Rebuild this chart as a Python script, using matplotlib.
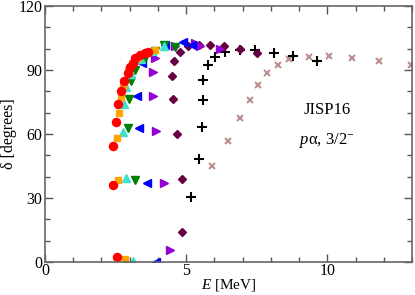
import matplotlib
matplotlib.use("Agg")
import matplotlib.pyplot as plt
from matplotlib.ticker import MultipleLocator

plt.rcParams["font.family"] = ["Liberation Serif", "DejaVu Serif"]
plt.rcParams["mathtext.fontset"] = "custom"
plt.rcParams["mathtext.rm"] = "Liberation Serif"
plt.rcParams["mathtext.it"] = "Liberation Serif:italic"

# phase shift points, one list pair per series (E in MeV, delta in degrees)
red_E = [2.54, 2.42, 2.42, 2.51, 2.58, 2.70, 2.80, 2.93, 3.01, 3.10, 3.19, 3.37, 3.55, 3.66]
red_d = [2.5, 36.1, 54.4, 65.6, 73.9, 80.2, 84.7, 88.4, 91.2, 93.1, 95.5, 97.0, 98.1, 98.6]

orange_E = [2.84, 2.60, 2.56, 2.62, 2.70, 2.78, 2.95, 3.30, 3.60, 3.90]
orange_d = [1.4, 38.4, 58.0, 69.7, 77.2, 82.5, 89.5, 95.5, 98.0, 99.4]

cyan_E = [3.13, 2.86, 2.78, 2.81, 2.87, 3.05, 3.40, 3.80, 4.20]
cyan_d = [0.5, 39.2, 61.1, 73.9, 81.9, 88.0, 95.0, 99.0, 101.3]

green_E = [3.19, 2.95, 2.98, 3.05, 3.19, 3.55, 3.90, 4.20, 4.61]
green_d = [38.4, 62.7, 76.4, 84.9, 90.0, 95.5, 99.0, 101.7, 100.9]

blue_E = [3.92, 3.61, 3.32, 3.27, 3.43, 3.75, 4.26, 4.90, 5.20]
blue_d = [0.2, 36.9, 62.7, 77.8, 93.4, 98.5, 101.7, 103.3, 101.7]

violet_E = [4.43, 4.20, 3.94, 3.82, 3.84, 3.88, 4.60, 5.32, 5.50, 6.20]
violet_d = [5.6, 36.9, 61.4, 78.0, 88.8, 95.5, 101.3, 102.5, 101.3, 99.7]

maroon_E = [4.86, 4.85, 4.67, 4.55, 4.50, 4.57, 4.79, 5.08, 5.44, 5.85, 6.35, 6.89, 7.51]
maroon_d = [14.2, 38.8, 60.0, 76.3, 87.3, 94.4, 98.6, 101.0, 101.7, 101.7, 101.0, 99.7, 97.8]

black_E = [5.18, 5.46, 5.56, 5.58, 5.61, 5.77, 6.03, 6.38, 6.89, 7.45, 8.10, 8.80, 9.63]
black_d = [30.6, 48.1, 63.4, 75.9, 85.3, 92.2, 96.2, 98.6, 99.4, 99.4, 98.1, 96.6, 94.2]

brown_E = [5.93, 6.50, 6.91, 7.25, 7.54, 7.86, 8.25, 8.66, 9.34, 10.05, 10.88, 11.84, 12.97]
brown_d = [45.2, 56.9, 67.4, 75.9, 83.0, 88.5, 92.4, 95.0, 96.2, 96.6, 95.5, 94.2, 92.4]

fig = plt.figure(figsize=(4.15, 2.95), dpi=100)
ax = fig.add_axes([0.1084, 0.112, 0.8844, 0.868])

ax.plot(brown_E, brown_d, ls="none", marker="x", ms=4.5, mew=1.5, color="#bc8f8f")
ax.plot(black_E, black_d, ls="none", marker="+", ms=6.5, mew=1.5, color="black")
ax.plot(maroon_E, maroon_d, ls="none", marker="D", ms=4.5, color="#670043")
ax.plot(violet_E, violet_d, ls="none", marker=">", ms=5.8, color="#9400d3")
ax.plot(blue_E, blue_d, ls="none", marker="<", ms=5.8, color="#0000ff")
ax.plot(green_E, green_d, ls="none", marker="v", ms=5.8, color="#007f00")
ax.plot(cyan_E, cyan_d, ls="none", marker="^", ms=5.8, color="#40e0d0")
ax.plot(orange_E, orange_d, ls="none", marker="s", ms=5, color="#ffa500")
ax.plot(red_E, red_d, ls="none", marker="o", ms=5.8, color="#ff0000")

ax.set_xlim(0, 13)
ax.set_ylim(0, 120)
ax.xaxis.set_major_locator(MultipleLocator(5))
ax.xaxis.set_minor_locator(MultipleLocator(1))
ax.yaxis.set_major_locator(MultipleLocator(30))
ax.yaxis.set_minor_locator(MultipleLocator(10))
ax.tick_params(which="both", direction="in", top=True, right=True,
               colors="#555555", labelcolor="black", labelsize=11.5)
ax.tick_params(axis="x", pad=1)
ax.tick_params(axis="y", pad=2)
ax.tick_params(which="major", length=6, width=1)
ax.tick_params(which="minor", length=3.5, width=1)
for s in ax.spines.values():
    s.set_color("#666666")
    s.set_linewidth(1.2)

ax.set_xlabel("$E$ [MeV]", fontsize=11, labelpad=-2)
ax.set_ylabel("δ [degrees]", fontsize=11.5, labelpad=1)

ax.text(10.0, 71, "JISP16", fontsize=12, ha="center", va="center")
ax.text(10.0, 57, "$p$α, 3/2$^{-}$", fontsize=12, ha="center", va="center")

fig.savefig("out.png", dpi=100)
